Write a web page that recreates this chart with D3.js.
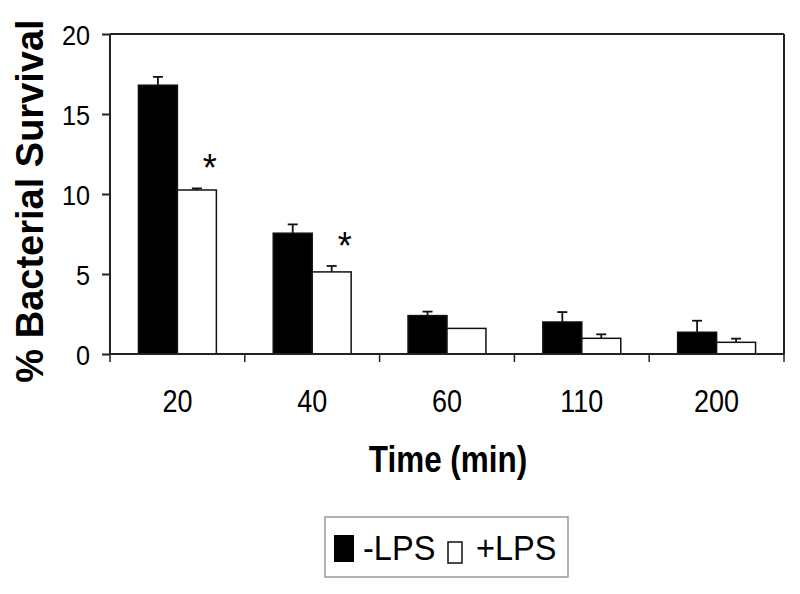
<!DOCTYPE html>
<html>
<head>
<meta charset="utf-8">
<script src="https://cdn.jsdelivr.net/npm/d3@7"></script>
<style>
  body { margin: 0; background: #fff; }
  svg { display: block; font-family: "Liberation Sans", Arial, sans-serif; }
</style>
</head>
<body>
<svg id="chart" width="800" height="594"></svg>
<script>
// values
const times = ["20", "40", "60", "110", "200"];
const series = ["-LPS", "+LPS"];
const minusLPS = [16.8, 7.55, 2.4, 2.0, 1.36];
const minusLPSErr = [0.52, 0.55, 0.25, 0.62, 0.72];
const plusLPS = [10.25, 5.13, 1.6, 0.98, 0.73];
const plusLPSErr = [0.1, 0.37, 0, 0.25, 0.23];
const significant = [true, true, false, false, false];
const yTicks = [0, 5, 10, 15, 20];

const fills = { "-LPS": "#000", "+LPS": "#fff" };

const svg = d3.select("#chart");
const plotLeft = 110, plotRight = 784, plotTop = 34, plotBottom = 354;
const axisColor = "#222";

const x = d3.scaleBand().domain(times).range([plotLeft, plotRight]).padding(0);
const xInner = d3.scaleBand().domain(series).range([0, x.bandwidth()]).paddingOuter(0.73);
const y = d3.scaleLinear().domain([0, 20]).range([plotBottom, plotTop]);

// text with the slightly narrow look of the original
function label(g, tx, ty, sx, str, size, anchor, weight) {
  return g.append("g")
    .attr("transform", `translate(${tx},${ty}) scale(${sx},1)`)
    .append("text")
    .attr("text-anchor", anchor)
    .attr("font-size", size)
    .attr("font-weight", weight || "normal")
    .attr("fill", "#000")
    .text(str);
}

const rows = times.map((t, i) => ({
  time: t,
  vals: [
    { key: "-LPS", v: minusLPS[i], e: minusLPSErr[i] },
    { key: "+LPS", v: plusLPS[i], e: plusLPSErr[i] }
  ],
  sig: significant[i]
}));

// bars
const groups = svg.selectAll("g.grp")
  .data(rows)
  .enter()
  .append("g")
  .attr("class", "grp")
  .attr("transform", d => `translate(${x(d.time)},0)`);

groups.selectAll("rect")
  .data(d => d.vals)
  .enter()
  .append("rect")
  .attr("x", d => xInner(d.key))
  .attr("y", d => y(d.v))
  .attr("width", xInner.bandwidth())
  .attr("height", d => y(0) - y(d.v))
  .attr("fill", d => fills[d.key])
  .attr("stroke", "#111")
  .attr("stroke-width", 1.5);

// error bars (upper half only)
const err = groups.selectAll("g.err")
  .data(d => d.vals.filter(v => v.e > 0))
  .enter()
  .append("g")
  .attr("class", "err")
  .attr("stroke", "#111")
  .attr("stroke-width", 1.8);

err.append("line")
  .attr("x1", d => xInner(d.key) + xInner.bandwidth() / 2)
  .attr("x2", d => xInner(d.key) + xInner.bandwidth() / 2)
  .attr("y1", d => y(d.v))
  .attr("y2", d => y(d.v + d.e));

err.append("line")
  .attr("x1", d => xInner(d.key) + xInner.bandwidth() / 2 - 5)
  .attr("x2", d => xInner(d.key) + xInner.bandwidth() / 2 + 5)
  .attr("y1", d => y(d.v + d.e))
  .attr("y2", d => y(d.v + d.e));

// significance stars
rows.filter(d => d.sig).forEach(d => {
  const p = d.vals[1];
  const cx = x(d.time) + xInner(p.key) + xInner.bandwidth() / 2 + 13;
  label(svg, cx, y(p.v + p.e) - 7, 0.95, "*", 38, "middle");
});

// frame
const frame = svg.append("g").attr("stroke", axisColor).attr("stroke-width", 2).attr("fill", "none");
frame.append("line").attr("x1", plotLeft).attr("x2", plotRight).attr("y1", plotTop).attr("y2", plotTop);
frame.append("line").attr("x1", plotRight).attr("x2", plotRight).attr("y1", plotTop).attr("y2", plotBottom);

// y axis
const yAxis = svg.append("g")
  .attr("transform", `translate(${plotLeft},0)`)
  .call(d3.axisLeft(y).tickValues(yTicks).tickSize(8).tickFormat(""));
yAxis.selectAll("path, line").attr("stroke", axisColor).attr("stroke-width", 2);
yAxis.select(".domain").attr("d", `M0,${plotTop}V${plotBottom}`);
yTicks.forEach(t => label(svg, 90, y(t) + 10.5, 0.9, String(t), 28, "end"));

// x axis, ticks on the category boundaries
const xAxis = svg.append("g")
  .attr("transform", `translate(0,${plotBottom})`)
  .call(d3.axisBottom(x).tickSize(0).tickFormat(""));
xAxis.select(".domain").attr("d", `M${plotLeft},0H${plotRight}`).attr("stroke", axisColor).attr("stroke-width", 2);
xAxis.selectAll(".tick").remove();
const bounds = times.map(t => x(t)).concat([x(times[times.length - 1]) + x.step()]);
xAxis.selectAll("line.bnd")
  .data(bounds)
  .enter()
  .append("line")
  .attr("class", "bnd")
  .attr("x1", d => d).attr("x2", d => d)
  .attr("y1", 0).attr("y2", 8)
  .attr("stroke", axisColor)
  .attr("stroke-width", 1.5);
times.forEach(t => label(svg, x(t) + x.bandwidth() / 2, 412, 0.87, t, 31, "middle"));

// axis titles
svg.append("text")
  .attr("transform", "translate(43,201) rotate(-90)")
  .attr("text-anchor", "middle")
  .attr("font-size", 38)
  .attr("font-weight", "bold")
  .text("% Bacterial Survival");
label(svg, 448, 472, 0.85, "Time (min)", 37, "middle", "bold");

// legend
const lg = svg.append("g");
lg.append("rect")
  .attr("x", 325).attr("y", 517).attr("width", 243).attr("height", 60)
  .attr("fill", "#fff").attr("stroke", "#999").attr("stroke-width", 1.5);
lg.append("rect")
  .attr("x", 334).attr("y", 535).attr("width", 20).attr("height", 27)
  .attr("fill", fills[series[0]]);
label(lg, 363, 560, 0.93, series[0], 35, "start");
lg.append("rect")
  .attr("x", 448).attr("y", 542).attr("width", 14).attr("height", 21)
  .attr("fill", fills[series[1]]).attr("stroke", "#111").attr("stroke-width", 1.5);
label(lg, 476, 560, 0.93, series[1], 35, "start");
</script>
</body>
</html>
